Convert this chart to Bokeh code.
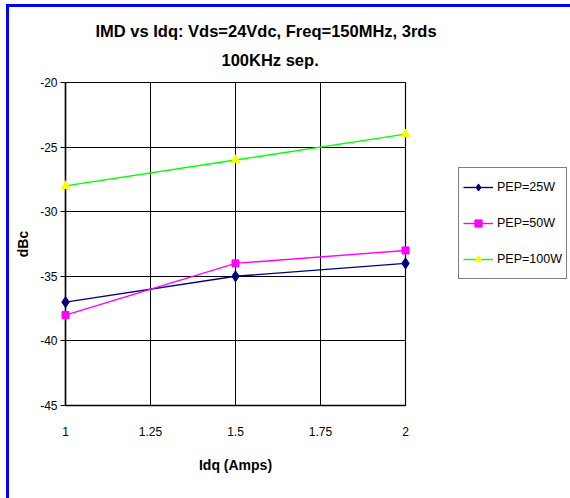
from bokeh.plotting import figure
from bokeh.models import Range1d, FixedTicker, Legend, LegendItem, Title
from bokeh.embed import file_html
from bokeh.resources import INLINE

idq = [1.0, 1.5, 2.0]
pep25 = [-37, -35, -34]
pep50 = [-38, -34, -33]
pep100 = [-28, -26, -24]
x_ticks = [1, 1.25, 1.5, 1.75, 2]
y_ticks = [-45, -40, -35, -30, -25, -20]
title1 = "IMD vs Idq: Vds=24Vdc, Freq=150MHz, 3rds"
title2 = "100KHz sep."

FONT = "Liberation Sans"

p = figure(frame_width=340, frame_height=323, output_backend="svg", toolbar_location=None,
           x_range=Range1d(1, 2), y_range=Range1d(-45, -20),
           min_border_left=65, min_border_right=165, min_border_top=82, min_border_bottom=93)
p.styles = {"box-shadow": "inset 6px 4px 0 0 #FFFFFF, inset 9px 7px 0 0 #0000FF"}
p.background_fill_color = "white"
p.border_fill_color = None
p.outline_line_color = "#000000"
p.outline_line_width = 1.2

p.xaxis.ticker = FixedTicker(ticks=x_ticks)
p.yaxis.ticker = FixedTicker(ticks=y_ticks)
p.xaxis.major_label_overrides = {1: "1", 2: "2"}
p.yaxis.major_label_overrides = {t: str(t) for t in y_ticks}

for g in (p.xgrid, p.ygrid):
    g.grid_line_color = "#000000"
    g.grid_line_width = 1

for ax in (p.xaxis, p.yaxis):
    ax.axis_line_color = "#000000"
    ax.axis_line_width = 1.5
    ax.major_label_text_font = FONT
    ax.major_label_text_font_size = "12px"
    ax.major_label_text_color = "#000000"
    ax.axis_label_text_font = FONT
    ax.axis_label_text_font_size = "14px"
    ax.axis_label_text_font_style = "bold"
    ax.axis_label_text_color = "#000000"
    ax.minor_tick_line_color = None

p.xaxis.major_tick_line_color = None
p.xaxis.major_label_standoff = 15
p.xaxis.axis_label = "Idq (Amps)"
p.xaxis.axis_label_standoff = 18

p.yaxis.major_tick_out = 5
p.yaxis.major_tick_in = 0
p.yaxis.major_tick_line_color = "#000000"
p.yaxis.major_label_standoff = 3
p.yaxis.axis_label = "dBc"
p.yaxis.axis_label_standoff = 6

l1 = p.line(idq, pep25, line_color="#000080", line_width=1.4)
m1 = p.scatter(idq, pep25, marker="diamond", size=11, fill_color="#000080", line_color="#000080", level="overlay")
l2 = p.line(idq, pep50, line_color="#FF00FF", line_width=1.4)
m2 = p.scatter(idq, pep50, marker="square", size=7, fill_color="#FF00FF", line_color="#FF00FF", level="overlay")
l3 = p.line(idq, pep100, line_color="#00FF00", line_width=1.4)
m3 = p.scatter(idq, pep100, marker="triangle", size=9, fill_color="#FFFF00", line_color="#FFFF00", level="overlay")

legend = Legend(items=[
    LegendItem(label="PEP=25W", renderers=[l1, m1]),
    LegendItem(label="PEP=50W", renderers=[l2, m2]),
    LegendItem(label="PEP=100W", renderers=[l3, m3]),
], location=(53, 126))
legend.margin = 0
legend.padding = 4
legend.spacing = 6
legend.label_height = 30
legend.glyph_height = 18
legend.glyph_width = 30
legend.label_standoff = 4
legend.border_line_color = "#000000"
legend.border_line_width = 1
legend.label_text_font = FONT
legend.label_text_font_size = "12.5px"
legend.label_text_color = "#000000"
legend.background_fill_color = "white"
p.add_layout(legend, "right")

t2 = Title(text=title2, align="left", offset=156, standoff=28, text_font=FONT,
           text_font_size="16.5px", text_font_style="bold", text_color="#000000")
t1 = Title(text=title1, align="left", offset=30, standoff=-10, text_font=FONT,
           text_font_size="16.5px", text_font_style="bold", text_color="#000000")
p.add_layout(t2, "above")
p.add_layout(t1, "above")

open("out.html", "w").write(file_html(p, INLINE))
